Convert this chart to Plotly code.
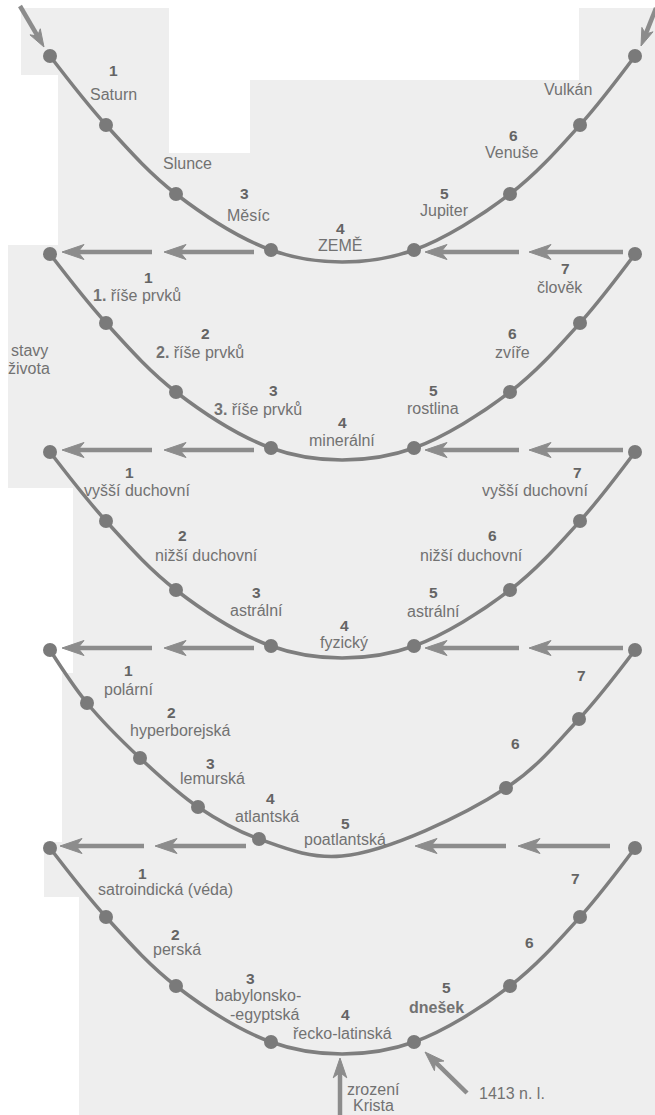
import math
import plotly.graph_objects as go

W, H = 655, 1115

# ---------------- data ----------------
row_tops = [56, 254, 452, 650, 848]           # y of the upper end-points of each U
bottom_x, bottom_depth = 342, 206               # lowest point of every U (relative to row top)

# stations (dots) of the standard U (rows 1,2,3,5)
std_station_x = [50, 106, 176, 271, 414, 510, 580, 635]
std_station_depth = [0, 69, 138, 194, 194, 138, 69, 0]
# stations of row 4 (post-Atlantean epochs)
r4_station_x = [50, 87, 140, 198, 259, 506, 579, 635]
r4_station_depth = [0, 53, 108, 157, 189, 138, 69, 0]

# horizontal arrows between rows: (tail_x, head_x) pairs
std_arrows = [(152, 62), (254, 164), (519, 425), (623, 529)]
last_arrows = [(144, 60), (246, 155), (506, 415), (610, 518)]

row1_numbers = ["1", "", "3", "4", "5", "6", ""]
row1_names = ["Saturn", "Slunce", "Měsíc", "ZEMĚ", "Jupiter", "Venuše", "Vulkán"]
row1_num_xy = [(113, 70), None, (244, 193), (340, 228), (444, 193), (513, 135), None]
row1_name_xy = [(113, 94), (187, 163), (248, 215), (340, 245), (444, 210), (511, 152), (568, 89)]

row2_numbers = ["1", "2", "3", "4", "5", "6", "7"]
row2_names = ["<b>1.</b> říše prvků", "<b>2.</b> říše prvků", "<b>3.</b> říše prvků",
              "minerální", "rostlina", "zvíře", "člověk"]
row2_num_xy = [(148, 277), (205, 333), (273, 390), (342, 422), (433, 390), (512, 333), (565, 268)]
row2_name_xy = [(137, 295), (200, 352), (258, 409), (342, 440), (433, 408), (512, 352), (560, 287)]

row3_numbers = ["1", "2", "3", "4", "5", "6", "7"]
row3_names = ["vyšší duchovní", "nižší duchovní", "astrální", "fyzický",
              "astrální", "nižší duchovní", "vyšší duchovní"]
row3_num_xy = [(129, 472), (182, 535), (256, 592), (344, 625), (433, 592), (492, 535), (577, 472)]
row3_name_xy = [(137, 490), (206, 555), (256, 610), (344, 642), (433, 611), (471, 555), (535, 490)]

row4_numbers = ["1", "2", "3", "4", "5", "6", "7"]
row4_names = ["polární", "hyperborejská", "lemurská", "atlantská", "poatlantská", "", ""]
row4_num_xy = [(128, 670), (171, 712), (210, 763), (270, 798), (345, 823), (515, 743), (581, 675)]
row4_name_xy = [(128, 689), (180, 730), (212, 778), (267, 816), (345, 839), None, None]

row5_numbers = ["1", "2", "3", "4", "5", "6", "7"]
row5_names = ["satroindická (véda)", "perská", "babylonsko-", "řecko-latinská",
              "<b>dnešek</b>", "", ""]
row5_num_xy = [(142, 873), (175, 934), (250, 978), (345, 1014), (446, 987), (529, 942), (575, 878)]
row5_name_xy = [(165, 889), (177, 949), (258, 995), (342, 1033), (436, 1007), None, None]
row5_extra = ["-egyptská"]
row5_extra_xy = [(264, 1014)]

side_label = ["stavy", "života"]
side_label_xy = [(29, 350), (29, 368)]
birth_label = ["zrození", "Krista"]
birth_label_xy = [(373, 1089), (373, 1105)]
year_label = "1413 n. l."
year_label_xy = (477, 1093)

# white (unscanned) patches of the page: (x0, y0, x1, y1)
white_patches = [(0, 0, 655, 8), (0, 0, 21, 75), (0, 75, 58, 245), (0, 245, 8, 488),
                 (0, 488, 73, 673), (0, 673, 62, 842), (0, 842, 44, 897), (0, 897, 79, 1115),
                 (169, 0, 250, 153), (250, 0, 579, 80)]

# ---------------- styling ----------------
BG = "#eeeeee"
LINE = "#7e7e7e"
DOT = "#7a7a7a"
ARROW = "#8c8c8c"
TXT = "#727272"
NUM = "#646464"
FONT = "Liberation Sans, Arial, sans-serif"
HEAD_LEN, HEAD_HALF, HEAD_NOTCH, SHAFT_W = 22, 7.5, 16, 4.5

fig = go.Figure()

for (x0, y0, x1, y1) in white_patches:
    fig.add_shape(type="rect", x0=x0, y0=y0, x1=x1, y1=y1, xref="x", yref="y",
                  fillcolor="white", line=dict(width=0), layer="below")


def draw_row(top, sx, sd):
    pts = sorted(list(zip(sx, sd)) + [(bottom_x, bottom_depth)])
    cx = [p[0] for p in pts]
    cy = [top + p[1] for p in pts]
    fig.add_trace(go.Scatter(x=cx, y=cy, mode="lines",
                             line=dict(color=LINE, width=3.5, shape="spline", smoothing=1.0),
                             hoverinfo="skip", showlegend=False))
    fig.add_trace(go.Scatter(x=sx, y=[top + d for d in sd], mode="markers",
                             marker=dict(color=DOT, size=14), hoverinfo="skip", showlegend=False))


for i, top in enumerate(row_tops):
    if i == 3:
        draw_row(top, r4_station_x, r4_station_depth)
    else:
        draw_row(top, std_station_x, std_station_depth)


def arrow(x, y, ax, ay, scale=1.0):
    """barbed arrow from tail (ax, ay) to tip (x, y), in axis units (1 unit = 1 px)"""
    dx, dy = x - ax, y - ay
    d = math.hypot(dx, dy)
    ux, uy = dx / d, dy / d
    nx, ny = -uy, ux
    L, Hh, N = HEAD_LEN * scale, HEAD_HALF * scale, HEAD_NOTCH * scale
    bx, by = x - L * ux, y - L * uy
    p1 = (bx + Hh * nx, by + Hh * ny)
    p2 = (x - N * ux, y - N * uy)
    p3 = (bx - Hh * nx, by - Hh * ny)
    fig.add_shape(type="line", x0=ax, y0=ay, x1=p2[0] + 2 * ux, y1=p2[1] + 2 * uy,
                  xref="x", yref="y", line=dict(color=ARROW, width=SHAFT_W), layer="above")
    path = (f"M{x},{y} L{p1[0]:.2f},{p1[1]:.2f} L{p2[0]:.2f},{p2[1]:.2f} "
            f"L{p3[0]:.2f},{p3[1]:.2f} Z")
    fig.add_shape(type="path", path=path, xref="x", yref="y", fillcolor=ARROW,
                  line=dict(color=ARROW, width=1), layer="above")


for k in range(1, 5):
    y = row_tops[k] - 2
    pairs = last_arrows if k == 4 else std_arrows
    for tail, head in pairs:
        arrow(head, y, tail, y)

# entry arrows at the top
arrow(44, 47, 20, 6, scale=0.8)
arrow(641, 46, 656, 8, scale=0.8)
# bottom arrows
arrow(340, 1058, 340, 1116, scale=0.9)
arrow(425, 1052, 467, 1093, scale=0.9)


def label(txt, xy, num=False, bold=False, anchor="center"):
    if xy is None or txt == "":
        return
    fig.add_annotation(x=xy[0], y=xy[1], xref="x", yref="y", text=txt, showarrow=False,
                       xanchor=anchor, yanchor="middle",
                       font=dict(family=FONT, size=15.5 if num else 16,
                                 color=NUM if (num or bold) else TXT,
                                 weight="bold" if (num or bold) else "normal"))


for nums, names, nxy, mxy in [(row1_numbers, row1_names, row1_num_xy, row1_name_xy),
                              (row2_numbers, row2_names, row2_num_xy, row2_name_xy),
                              (row3_numbers, row3_names, row3_num_xy, row3_name_xy),
                              (row4_numbers, row4_names, row4_num_xy, row4_name_xy),
                              (row5_numbers, row5_names, row5_num_xy, row5_name_xy)]:
    for t, xy in zip(nums, nxy):
        label(t, xy, num=True)
    for t, xy in zip(names, mxy):
        label(t, xy)

for t, xy in zip(row5_extra, row5_extra_xy):
    label(t, xy)
for t, xy in zip(side_label, side_label_xy):
    label(t, xy)
for t, xy in zip(birth_label, birth_label_xy):
    label(t, xy)
label(year_label, year_label_xy, anchor="left")

fig.update_layout(
    width=W, height=H, autosize=False,
    margin=dict(l=0, r=0, t=0, b=0, pad=0),
    paper_bgcolor=BG, plot_bgcolor=BG,
    xaxis=dict(range=[0, W], visible=False, fixedrange=True),
    yaxis=dict(range=[H, 0], visible=False, fixedrange=True),
    showlegend=False,
)

fig.write_html("out.html", config={"displayModeBar": False},
               post_script="document.body.style.margin='0';document.body.style.overflow='hidden';")
